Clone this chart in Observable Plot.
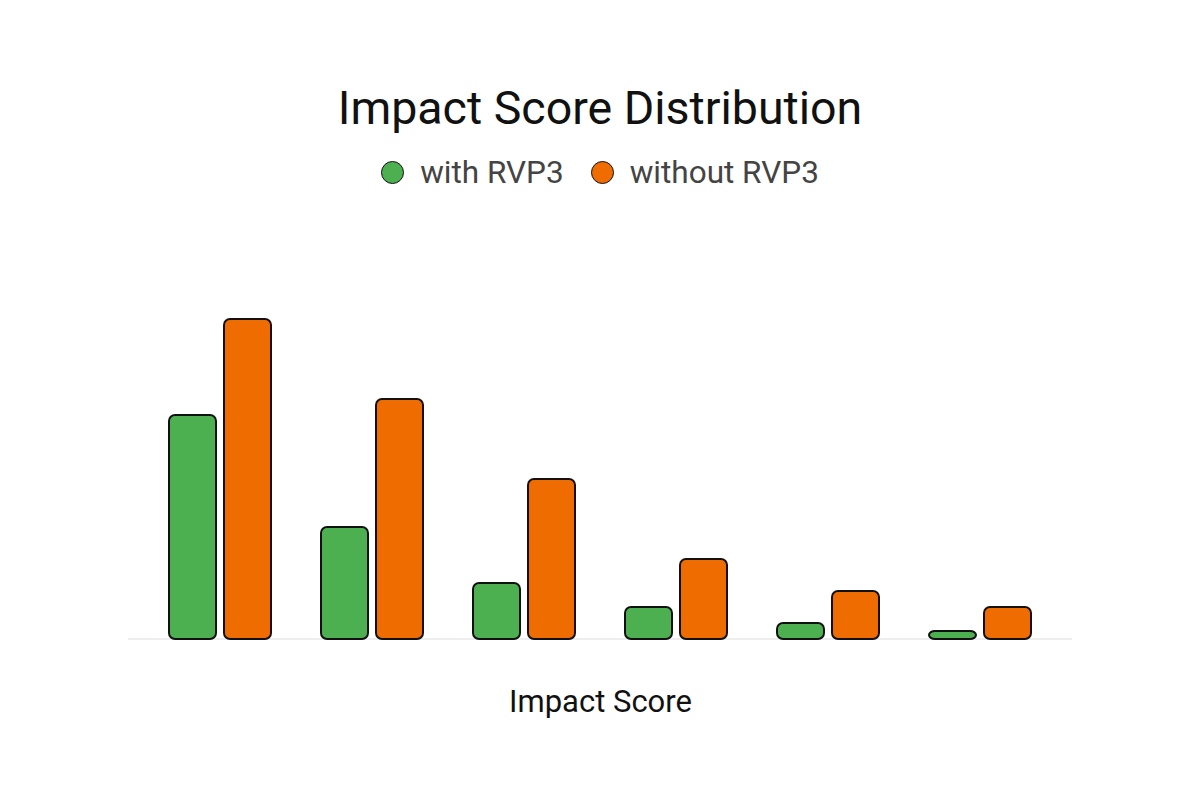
<!DOCTYPE html>
<html>
<head>
<meta charset="utf-8">
<script src="https://cdn.jsdelivr.net/npm/d3@7"></script>
<script src="https://cdn.jsdelivr.net/npm/@observablehq/plot@0.6"></script>
<style>
  html, body { margin: 0; padding: 0; background: #fff; }
  body { width: 1200px; height: 800px; overflow: hidden; font-family: Roboto, "Noto Sans", sans-serif; }
  #title { padding-top: 80px; height: 56px; line-height: 56px; text-align: center; font-size: 46.5px; color: #111; }
  #legend { margin-top: 12px; height: 48px; display: flex; justify-content: center; align-items: center; gap: 27px; font-size: 31.5px; color: #444; }
  .item { display: flex; align-items: center; gap: 16px; }
  .swatch { width: 21px; height: 21px; border-radius: 50%; border: 1.5px solid #111; }
  #chart { margin-top: 14px; }
</style>
</head>
<body>
<div id="title">Impact Score Distribution</div>
<div id="legend"></div>
<div id="chart"></div>
<script>
const groups = ["1", "2", "3", "4", "5", "6"];
const series = ["with RVP3", "without RVP3"];
const withRVP3 = [28, 14, 7, 4, 2, 1];
const withoutRVP3 = [40, 30, 20, 10, 6, 4];
const colors = ["#4CAF50", "#EF6C00"];
const xLabel = "Impact Score";

const data = groups.flatMap((g, i) => [
  {group: g, series: series[0], value: withRVP3[i]},
  {group: g, series: series[1], value: withoutRVP3[i]}
]);

const legend = document.getElementById("legend");
series.forEach((s, i) => {
  const item = document.createElement("div");
  item.className = "item";
  const sw = document.createElement("span");
  sw.className = "swatch";
  sw.style.background = colors[i];
  const t = document.createElement("span");
  t.textContent = s;
  item.appendChild(sw);
  item.appendChild(t);
  legend.appendChild(item);
});

const plot = Plot.plot({
  width: 1200,
  height: 560,
  marginTop: 109,
  marginBottom: 131,
  marginLeft: 128,
  marginRight: 128,
  style: {fontFamily: "Roboto, 'Noto Sans', sans-serif", fontSize: "31px", color: "#111", background: "transparent"},
  fx: {domain: groups, paddingInner: 0.21, paddingOuter: 0.21, label: xLabel, tickSize: 0, tickFormat: () => "", labelAnchor: "center", labelOffset: 72},
  x: {domain: series, paddingInner: 0.143, paddingOuter: 0.143, axis: null},
  y: {domain: [0, 40], axis: null},
  color: {domain: series, range: colors},
  marks: [
    Plot.barY(data, {fx: "group", x: "series", y: "value", fill: "series", stroke: "#111", strokeWidth: 2, rx: 6})
  ]
});

document.getElementById("chart").appendChild(plot);

const yScale = plot.scale("y");
const y0 = yScale.apply(0);
d3.select(plot).insert("line", "g")
  .attr("x1", 128).attr("x2", 1200 - 128)
  .attr("y1", y0).attr("y2", y0)
  .attr("stroke", "#ddd").attr("stroke-width", 1);
</script>
</body>
</html>
